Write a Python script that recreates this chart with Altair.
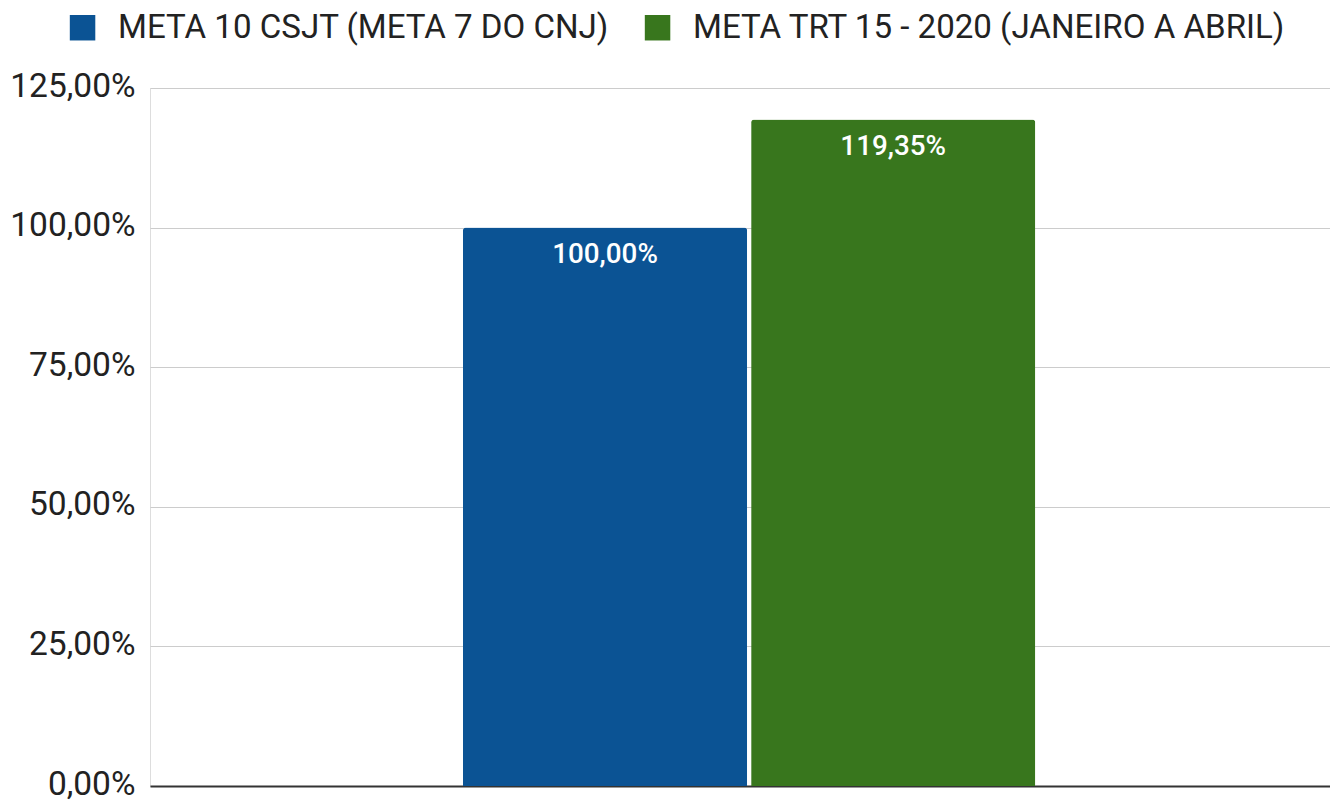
import altair as alt
import pandas as pd

series = ["META 10 CSJT (META 7 DO CNJ)", "META TRT 15 - 2020 (JANEIRO A ABRIL)"]
values = [100.00, 119.35]
colors = ["#0b5394", "#38761d"]
y_ticks = [0, 25, 50, 75, 100, 125]

df = pd.DataFrame({"grupo": ["g", "g"], "serie": series, "valor": values})

FONT = "Roboto"

x = alt.X(
    "grupo:N",
    scale=alt.Scale(paddingInner=0, paddingOuter=0.531, align=0.515),
    axis=alt.Axis(labels=False, ticks=False, title=None, domain=True,
                  domainColor="#333333", domainWidth=2),
)
xoff = alt.XOffset("serie:N", sort=series,
                   scale=alt.Scale(paddingInner=0.0139, paddingOuter=0))
y = alt.Y(
    "valor:Q",
    scale=alt.Scale(domain=[0, 125], nice=False),
    axis=alt.Axis(values=y_ticks, title=None, ticks=False, domain=False,
                  grid=True, gridColor="#cccccc", gridWidth=1.2,
                  labelFont=FONT, labelFontSize=33.5, labelColor="#222222",
                  labelPadding=15, labelOffset=-2,
                  labelExpr="replace(format(datum.value, '.2f'), '.', ',') + '%'"),
)

bars = alt.Chart(df).mark_bar(cornerRadiusTopLeft=3, cornerRadiusTopRight=3).encode(
    x=x,
    xOffset=xoff,
    y=y,
    color=alt.Color(
        "serie:N",
        sort=series,
        scale=alt.Scale(domain=series, range=colors),
        legend=alt.Legend(
            title=None, orient="none", direction="horizontal",
            legendX=-84, legendY=-77,
            symbolType="square", symbolSize=650, symbolStrokeWidth=0,
            labelFont=FONT, labelFontSize=33.1, labelColor="#222222",
            labelLimit=1000, labelOffset=19, columnPadding=31,
        ),
    ),
)

labels = alt.Chart(df).transform_calculate(
    rotulo="replace(format(datum.valor, '.2f'), '.', ',') + '%'"
).mark_text(
    font=FONT, fontSize=27.8, fontWeight=500, color="white",
    baseline="top", dy=13,
).encode(
    x=alt.X("grupo:N"),
    xOffset=alt.XOffset("serie:N", sort=series),
    y=alt.Y("valor:Q"),
    text="rotulo:N",
)

chart = alt.layer(bars, labels).properties(
    width=1180, height=698,
    autosize=alt.AutoSizeParams(type="none"),
    padding={"left": 142, "top": 80, "right": 0, "bottom": 16},
).configure_view(stroke=None).configure(background="white")

chart.save("out.html", embed_options={"renderer": "svg", "actions": False})
